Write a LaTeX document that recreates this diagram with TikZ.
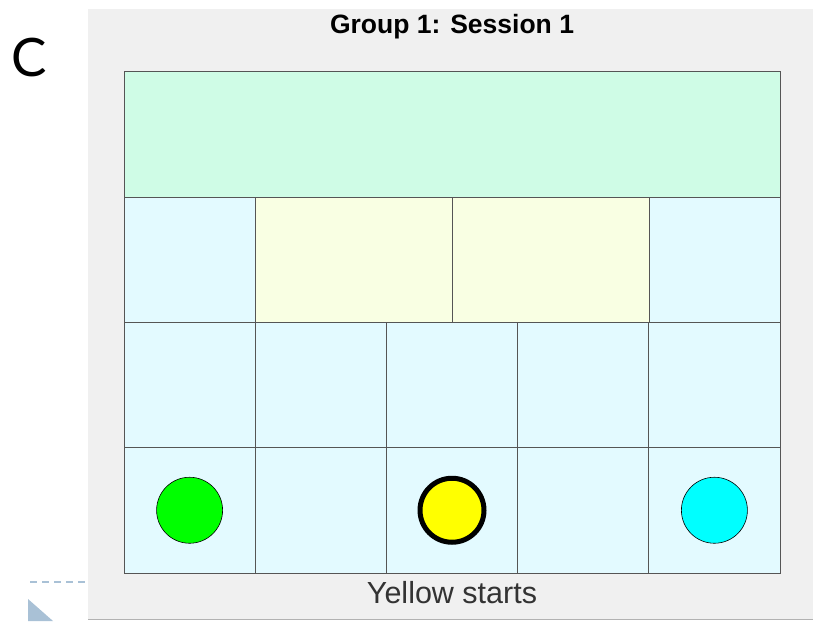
\documentclass[tikz,border=0pt]{standalone}
\usepackage{fontspec}
\setmainfont{Liberation Sans}
\newfontfamily\letterfont{Lato}
\usetikzlibrary{positioning}

\definecolor{panelgray}{HTML}{F0F0F0}
\definecolor{mintband}{HTML}{CFFCE6}
\definecolor{paleblue}{HTML}{E3FAFF}
\definecolor{paleyellow}{HTML}{F9FFE3}
\definecolor{gridline}{HTML}{555555}
\definecolor{markblue}{HTML}{A9C1D6}
\definecolor{pgreen}{HTML}{00FF00}
\definecolor{pyellow}{HTML}{FFFF00}
\definecolor{pcyan}{HTML}{00FFFF}

\begin{document}
\begin{tikzpicture}[
  x=1pt, y=-1pt,
  cell/.style={
    rectangle, draw=gridline, line width=0.8pt,
    anchor=north west, inner sep=0pt, outer sep=0pt
  },
  token/.style={circle, draw=black, line width=0.6pt, minimum size=66pt, inner sep=0pt},
  active/.style={token, line width=5pt, minimum size=64pt}
]
\useasboundingbox (0,0) rectangle (813,621);

% panel and frame marks
\fill[panelgray] (88,9) rectangle (813,619);
\draw[black!30, line width=1pt] (88,619.5) -- (813,619.5);
\node[font=\letterfont\fontsize{53}{53}\selectfont] (tag) at (29,58) {C};
\coordinate (dashA) at (30,582);
\coordinate (dashB) at (88,582);
\draw[markblue, line width=1.2pt, dash pattern=on 7pt off 5pt] (dashA) -- (dashB);
\fill[markblue] (28,599) -- (53,621) -- (28,621) -- cycle;

\node[font=\bfseries\fontsize{26.5}{26.5}\selectfont] (title) at (452,27) {Group 1: Session 1};

% top band
\node[cell, fill=mintband, minimum width=656pt, minimum height=126pt] (band) at (124,71) {};

% second row
\node[cell, fill=paleblue, minimum width=131pt, minimum height=125pt] (r2a) at (124,197) {};
\node[cell, fill=paleyellow, minimum width=197pt, minimum height=125pt] (r2b) at (255,197) {};
\node[cell, fill=paleyellow, minimum width=197pt, minimum height=125pt] (r2c) at (452,197) {};
\node[cell, fill=paleblue, minimum width=131pt, minimum height=125pt] (r2d) at (649,197) {};

% lower rows
\foreach \r/\y in {3/322, 4/447.5} {
  \foreach \c in {0,...,4} {
    \node[cell, fill=paleblue, minimum width=131.2pt, minimum height=125.5pt]
      (r\r c\c) at ({124+131.2*\c},\y) {};
  }
}

% players
\node[token, fill=pgreen] (green) at (r4c0.center) {};
\node[active, fill=pyellow] (yellow) at (r4c2.center) {};
\node[token, fill=pcyan] (cyan) at (r4c4.center) {};

\node[font=\fontsize{30.5}{30.5}\selectfont, text=black!80] (status) at (452,593) {Yellow starts};
\end{tikzpicture}
\end{document}
